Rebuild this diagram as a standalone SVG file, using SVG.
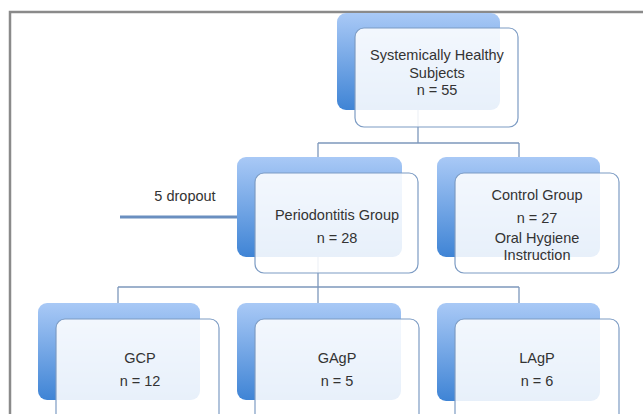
<svg xmlns="http://www.w3.org/2000/svg" width="643" height="414" viewBox="0 0 643 414">
<defs>
<linearGradient id="blue" x1="0" y1="0" x2="0" y2="1">
<stop offset="0" stop-color="#a9c9f6"/>
<stop offset="1" stop-color="#3f84d5"/>
</linearGradient>
<style>
.back{fill:url(#blue);}
.front{fill:#ffffff;fill-opacity:0.88;stroke:#7d9cc4;stroke-width:1.2;}
.conn{fill:none;stroke:#7d98bc;stroke-width:1.3;}
.drop{fill:none;stroke:#6a8fc0;stroke-width:3;}
text{font-family:"Liberation Sans",Arial,sans-serif;font-size:14.5px;fill:#333333;text-anchor:middle;}
.frame{fill:none;stroke:#8a8a8a;stroke-width:2.5;}
</style>
</defs>
<rect width="643" height="414" fill="#ffffff"/>
<path class="frame" d="M10,414 V12 H643"/>
<g id="connectors">
<path class="conn" d="M418,110 V143 M318,143 H519 M318,143 V157 M519,143 V157"/>
<path class="conn" d="M318,257 V287 M118,287 H519 M118,287 V303 M519,287 V303 M318,287 V303"/>
<path class="drop" d="M120,217 H248"/>
</g>
<g id="healthy">
<rect class="back" x="337" y="13" width="163" height="97" rx="9"/>
<rect class="front" x="355" y="28" width="163" height="99" rx="9"/>
<text x="437" y="60">Systemically Healthy</text>
<text x="437" y="77.5">Subjects</text>
<text x="437" y="95">n = 55</text>
</g>
<g id="periodontitis">
<rect class="back" x="237" y="157" width="165" height="100" rx="9"/>
<rect class="front" x="255" y="173" width="163" height="100" rx="9"/>
<text x="337" y="220">Periodontitis Group</text>
<text x="337" y="243">n = 28</text>
</g>
<g id="dropout">
<text x="185" y="201">5 dropout</text>
</g>
<g id="control">
<rect class="back" x="437" y="157" width="163" height="100" rx="9"/>
<rect class="front" x="455" y="173" width="164" height="100" rx="9"/>
<text x="537" y="200">Control Group</text>
<text x="537" y="223">n = 27</text>
<text x="537" y="243.3">Oral Hygiene</text>
<text x="537" y="259.9">Instruction</text>
</g>
<g id="gcp">
<rect class="back" x="38" y="303" width="162" height="97" rx="9"/>
<rect class="front" x="56" y="319" width="163" height="110" rx="9"/>
<text x="140" y="363">GCP</text>
<text x="140" y="386">n = 12</text>
</g>
<g id="gagp">
<rect class="back" x="237" y="303" width="164" height="97" rx="9"/>
<rect class="front" x="255" y="319" width="164" height="110" rx="9"/>
<text x="337" y="363">GAgP</text>
<text x="337" y="386">n = 5</text>
</g>
<g id="lagp">
<rect class="back" x="437" y="303" width="163" height="98" rx="9"/>
<rect class="front" x="455" y="319" width="164" height="110" rx="9"/>
<text x="537" y="363">LAgP</text>
<text x="537" y="386">n = 6</text>
</g>
</svg>
